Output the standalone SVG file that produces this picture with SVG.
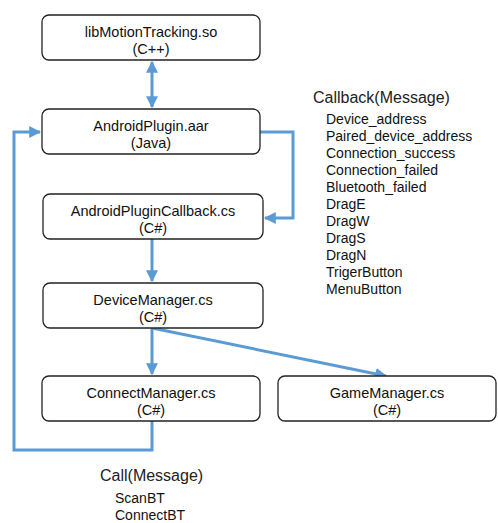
<svg xmlns="http://www.w3.org/2000/svg" width="498" height="523" viewBox="0 0 498 523">
<style>
.box{fill:#fff;stroke:#222;stroke-width:1.3}
.t{font-family:"Liberation Sans",Arial,sans-serif;font-size:14.5px;fill:#111;text-anchor:middle}
.c{fill:none;stroke:#5B9BD5;stroke-width:3}
.l{font-family:"Liberation Sans",Arial,sans-serif;font-size:14px;fill:#111}
.h{font-family:"Liberation Sans",Arial,sans-serif;font-size:16px;fill:#222}
</style>
<defs>
<marker id="ah" viewBox="0 0 10 10" refX="9" refY="5" markerWidth="4" markerHeight="4" orient="auto-start-reverse" markerUnits="strokeWidth">
<path d="M0,0 L10,5 L0,10 z" fill="#5B9BD5"/>
</marker>
</defs>
<g id="connectors">
<line class="c" x1="152" y1="62" x2="152" y2="107" marker-start="url(#ah)" marker-end="url(#ah)"/>
<polyline class="c" points="260,132 293,132 293,218 265,218" marker-end="url(#ah)"/>
<line class="c" x1="152" y1="239" x2="152" y2="281" marker-end="url(#ah)"/>
<line class="c" x1="152" y1="328" x2="152" y2="374" marker-end="url(#ah)"/>
<line class="c" x1="152" y1="328" x2="386" y2="376" marker-end="url(#ah)"/>
<polyline class="c" points="152,421 152,450 14,450 14,132 40,132" marker-end="url(#ah)"/>
</g>
<g id="libMotionTracking">
<rect class="box" x="42" y="15" width="218" height="45" rx="7"/>
<text class="t" x="151" y="37">libMotionTracking.so</text>
<text class="t" x="151" y="54">(C++)</text>
</g>
<g id="AndroidPlugin">
<rect class="box" x="42" y="109" width="218" height="45" rx="7"/>
<text class="t" x="151" y="131">AndroidPlugin.aar</text>
<text class="t" x="151" y="148">(Java)</text>
</g>
<g id="AndroidPluginCallback">
<rect class="box" x="43" y="194" width="220" height="45" rx="7"/>
<text class="t" x="153" y="216">AndroidPluginCallback.cs</text>
<text class="t" x="153" y="233">(C#)</text>
</g>
<g id="DeviceManager">
<rect class="box" x="43" y="283" width="220" height="45" rx="7"/>
<text class="t" x="153" y="305">DeviceManager.cs</text>
<text class="t" x="153" y="322">(C#)</text>
</g>
<g id="ConnectManager">
<rect class="box" x="42" y="376" width="218" height="45" rx="7"/>
<text class="t" x="151" y="398">ConnectManager.cs</text>
<text class="t" x="151" y="415">(C#)</text>
</g>
<g id="GameManager">
<rect class="box" x="278" y="376" width="218" height="45" rx="7"/>
<text class="t" x="387" y="398">GameManager.cs</text>
<text class="t" x="387" y="415">(C#)</text>
</g>
<g id="callback-label">
<text class="h" x="313" y="103">Callback(Message)</text>
<text class="l" x="326" y="124">Device_address</text>
<text class="l" x="326" y="141">Paired_device_address</text>
<text class="l" x="326" y="158">Connection_success</text>
<text class="l" x="326" y="175">Connection_failed</text>
<text class="l" x="326" y="192">Bluetooth_failed</text>
<text class="l" x="326" y="209">DragE</text>
<text class="l" x="326" y="226">DragW</text>
<text class="l" x="326" y="243">DragS</text>
<text class="l" x="326" y="260">DragN</text>
<text class="l" x="326" y="277">TrigerButton</text>
<text class="l" x="326" y="294">MenuButton</text>
</g>
<g id="call-label">
<text class="h" x="100" y="481">Call(Message)</text>
<text class="l" x="115" y="503">ScanBT</text>
<text class="l" x="115" y="520">ConnectBT</text>
</g>
</svg>
